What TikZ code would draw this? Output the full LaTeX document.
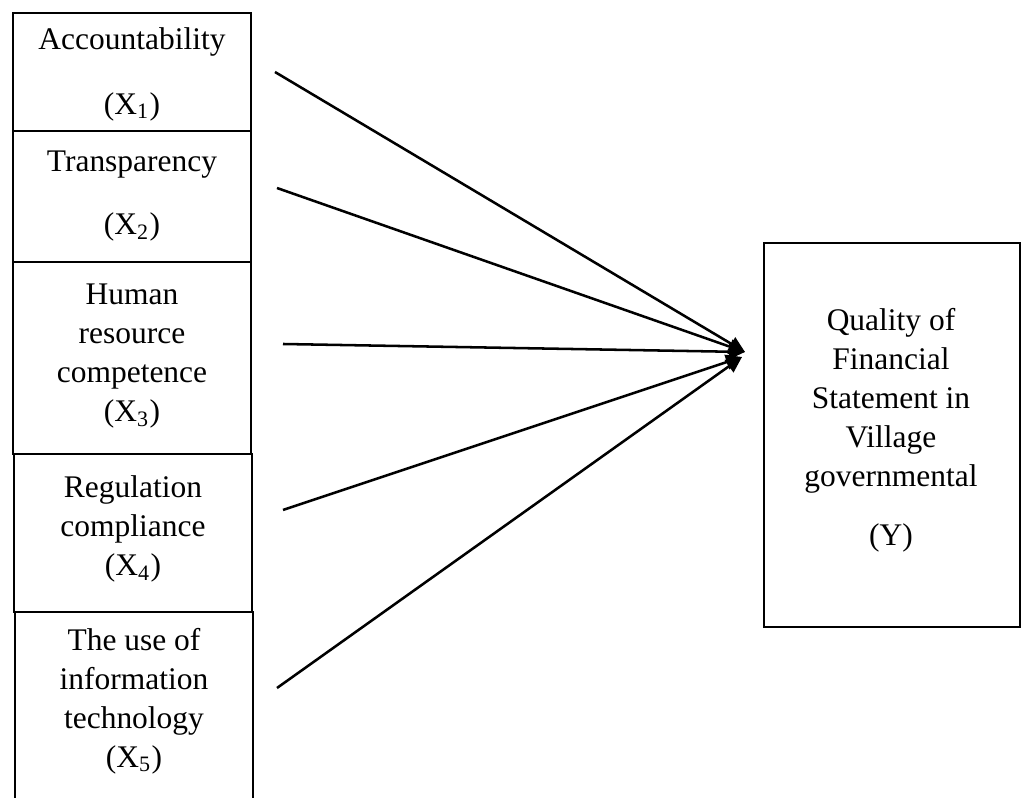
\documentclass[tikz,border=0pt]{standalone}
\usepackage{fontspec}
\setmainfont{Liberation Serif}
\usetikzlibrary{arrows.meta,fit}
\begin{document}
\begin{tikzpicture}[x=0.375pt,y=-0.375pt,
  box/.style={draw, line width=1pt, inner sep=0pt},
  lbl/.style={align=center, font=\fontsize{11.8}{14.6}\selectfont, inner sep=0pt},
  link/.style={line width=0.95pt, -{Triangle[length=6pt,width=5.6pt]}}]
\useasboundingbox (0,0) rectangle (1024,798);
\clip (0,0) rectangle (1024,798);

% independent variables, stacked on the left
\node[box, fit={(13,13) (251,131)}] (b1) {};
\node[box, fit={(13,131) (251,262)}] (b2) {};
\node[box, fit={(13,262) (251,454)}] (b3) {};
\node[box, fit={(14,454) (252,612)}] (b4) {};
\node[box, fit={(15,612) (253,820)}] (b5) {};

\node[lbl] (t1) at (132,74) {Accountability\\[9.75pt](X\textsubscript{1})};
\node[lbl] (t2) at (132,196) {Transparency\\[9pt](X\textsubscript{2})};
\node[lbl] (t3) at (132,356) {Human\\resource\\competence\\(X\textsubscript{3})};
\node[lbl] (t4) at (133,529) {Regulation\\compliance\\(X\textsubscript{4})};
\node[lbl] (t5) at (134,701) {The use of\\information\\technology\\(X\textsubscript{5})};

% dependent variable
\node[box, fit={(764,243) (1020,627)}] (by) {};
\node[lbl] (ty) at (891,430) {Quality of\\Financial\\Statement in\\Village\\governmental\\[7.5pt](Y)};

% arrow start and end points
\coordinate (s1) at (275,72);
\coordinate (s2) at (277,188);
\coordinate (s3) at (283,344);
\coordinate (s4) at (283,510);
\coordinate (s5) at (277,688);
\coordinate (e1) at (745,352);
\coordinate (e2) at (742,357);

\draw[link] (s1) -- (e1);
\draw[link] (s2) -- (e1);
\draw[link] (s3) -- (e1);
\draw[link] (s4) -- (e2);
\draw[link] (s5) -- (e2);
\end{tikzpicture}
\end{document}
